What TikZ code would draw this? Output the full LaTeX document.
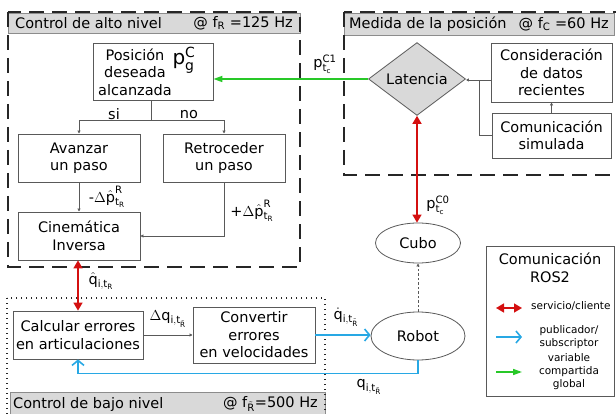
\documentclass[tikz,border=0pt]{standalone}
\usepackage{amsmath}
\usepackage{fontspec}
\setmainfont{DejaVu Sans}
\usetikzlibrary{shapes.geometric,arrows.meta,calc}
\definecolor{cred}{RGB}{212,16,16}
\definecolor{cblue}{RGB}{40,168,228}
\definecolor{cgreen}{RGB}{40,200,40}
\definecolor{hdr}{RGB}{217,217,217}
\newcommand{\mf}{\fontsize{14.5}{17.5}\selectfont}
\newcommand{\sfn}{\fontsize{10.5}{13}\selectfont}
\tikzset{
  box/.style={draw=black!65, line width=0.8pt, fill=white, align=center, inner sep=0pt, font=\mf},
  conn/.style={draw=black!65, line width=0.8pt},
  tiny/.style={-{Latex[length=3pt,width=3.5pt]}},
  frame/.style={draw=black!85, line width=1.4pt, dash pattern=on 15pt off 8pt},
  dotframe/.style={draw=black!85, line width=1.4pt, dash pattern=on 1.4pt off 3.6pt},
  hbar/.style={draw=black!45, line width=0.6pt, fill=hdr},
  lab/.style={font=\mf, inner sep=0pt},
  redl/.style={draw=cred, line width=1.6pt, {Triangle[length=8pt,width=9pt]}-{Triangle[length=8pt,width=9pt]}},
  bluel/.style={draw=cblue, line width=1.6pt, -{Straight Barb[length=5pt,width=12pt]}},
  greenl/.style={draw=cgreen, line width=1.6pt, -{Triangle[length=9pt,width=6pt]}},
}
\begin{document}
\begin{tikzpicture}[x=1pt,y=-1pt]
\useasboundingbox (0,0) rectangle (616,414);
% frames and header bars
\draw[hbar] (8,13) rectangle (300,33);
\draw[frame] (8,12) rectangle (300,267);
\draw[hbar] (344,13) rectangle (614,35);
\draw[frame] (344,12) rectangle (622,175);
\draw[hbar] (10,392) rectangle (325,416);
\draw[dotframe] (7,298) rectangle (325,420);
\node[lab, anchor=west] (h1a) at (15,23) {Control de alto nivel};
\node[lab, anchor=east] (h1b) at (293,23) {@ f$_{\text{R}}$ =125 Hz};
\node[lab, anchor=west] (h2a) at (349,24) {Medida de la posición};
\node[lab, anchor=east] (h2b) at (609,24) {@ f$_{\text{C}}$ =60 Hz};
\node[lab, anchor=west] (h3a) at (13,404) {Control de bajo nivel};
\node[lab, anchor=east] (h3b) at (318,404) {@ f$_{\tilde{\text{R}}}$=500 Hz};
% high level
\node[box, minimum width=120pt, minimum height=57pt] (pos) at (153,71.5) {};
\node[lab, align=center] (posT) at (135,72) {Posición\\deseada\\alcanzada};
\node[inner sep=0pt, font=\fontsize{20}{22}\selectfont] (pg) at (184,60) {$\text{p}^{\text{C}}_{\text{g}}$};
\node[box, minimum width=122pt, minimum height=48pt] (av) at (79,158) {Avanzar\\un paso};
\node[box, minimum width=122pt, minimum height=48pt] (re) at (224,158) {Retroceder\\un paso};
\node[box, minimum width=122pt, minimum height=48pt] (ci) at (79,236) {Cinemática\\Inversa};
\coordinate (sp) at (151,120);
\draw[conn] (pos.south -| sp) -- (sp);
\draw[conn, tiny] (sp) -| (av.north);
\draw[conn, tiny] (sp) -| (re.north);
\node[lab] (si) at (114,114) {si};
\node[lab] (no) at (189,115) {no};
\draw[conn, tiny] (av.south) -- (ci.north);
\draw[conn, tiny] (re.south) |- (ci.east);
\node[lab] (dp1) at (107,197) {-$\Delta\hat{\text{p}}^{\text{R}}_{\text{t}_{\text{R}}}$};
\node[lab] (dp2) at (252,211) {+$\Delta\hat{\text{p}}^{\text{R}}_{\text{t}_{\text{R}}}$};
% position measurement
\node[diamond, draw=black!65, line width=0.8pt, fill=hdr, minimum width=97pt, minimum height=62pt, inner sep=0pt, font=\mf] (lat) at (417,79) {Latencia};
\node[box, minimum width=121pt, minimum height=59pt] (con) at (551.5,72.5) {Consideración\\de datos\\recientes};
\node[box, minimum width=119pt, minimum height=45pt] (com) at (551.5,135.5) {Comunicación\\simulada};
\coordinate (j) at (479,80);
\draw[conn, tiny] (con.west |- j) -- (j -| lat.east);
\draw[conn] (com.west) -| (j);
\draw[conn, tiny] (com.north) -- (con.south);
\draw[greenl] (lat.west) -- (lat.west -| pos.east);
\node[lab] (pc1) at (325,64) {$\text{p}^{\text{C1}}_{\text{t}_{\text{c}}}$};
% cube and robot
\node[ellipse, draw=black!65, line width=0.8pt, fill=white, minimum width=85pt, minimum height=40pt, inner sep=0pt, font=\mf] (cubo) at (418,243) {Cubo};
\node[ellipse, draw=black!65, line width=0.8pt, fill=white, minimum width=94pt, minimum height=48pt, inner sep=0pt, font=\mf] (robot) at (418,336) {Robot};
\draw[redl] (lat.south) -- (lat.south |- cubo.north);
\node[lab] (pc0) at (438,205) {$\text{p}^{\text{C0}}_{\text{t}_{\text{c}}}$};
\draw[conn, dashed, dash pattern=on 2.5pt off 2pt, tiny] (robot.north) -- (cubo.south);
% low level
\node[box, minimum width=130pt, minimum height=48pt] (calc) at (78,335) {Calcular errores\\en articulaciones};
\node[box, minimum width=122pt, minimum height=56pt] (conv) at (254,335) {Convertir\\errores\\en velocidades};
\draw[redl] (calc.north) -- (calc.north |- ci.south);
\node[lab] (qh) at (101,281) {$\hat{\text{q}}_{\text{i},\text{t}_{\text{R}}}$};
\draw[conn, tiny] (calc.east) -- (conv.west);
\node[lab] (dq) at (168,319) {$\Delta\text{q}_{\text{i},\text{t}_{\tilde{\text{R}}}}$};
\draw[bluel] (conv.east) -- (robot.west |- conv.east);
\node[lab] (qd) at (346,317) {$\dot{\text{q}}_{\text{i},\text{t}_{\tilde{\text{R}}}}$};
\draw[bluel] (robot.south) -- ++(0,13) -| (calc.south);
\node[lab] (qq) at (369,387) {$\text{q}_{\text{i},\text{t}_{\tilde{\text{R}}}}$};
% legend
\node[draw=black!65, line width=0.8pt, minimum width=128pt, minimum height=150pt, inner sep=0pt] (leg) at (550,321) {};
\node[lab, align=center] (legT) at (550,268) {Comunicación\\ROS2};
\coordinate (l1a) at (496,308); \coordinate (l1b) at (522,308);
\coordinate (l2a) at (496,337); \coordinate (l2b) at (522,337);
\coordinate (l3a) at (496,372); \coordinate (l3b) at (522,372);
\draw[redl] (l1a) -- (l1b);
\draw[bluel] (l2a) -- (l2b);
\draw[greenl] (l3a) -- (l3b);
\node[font=\sfn, inner sep=0pt, anchor=west] (lt1) at (531,306) {servicio/cliente};
\node[font=\sfn, inner sep=0pt, align=center] (lt2) at (569,337) {publicador/\\subscriptor};
\node[font=\sfn, inner sep=0pt, align=center] (lt3) at (569,372) {variable\\compartida\\global};
\end{tikzpicture}
\end{document}
